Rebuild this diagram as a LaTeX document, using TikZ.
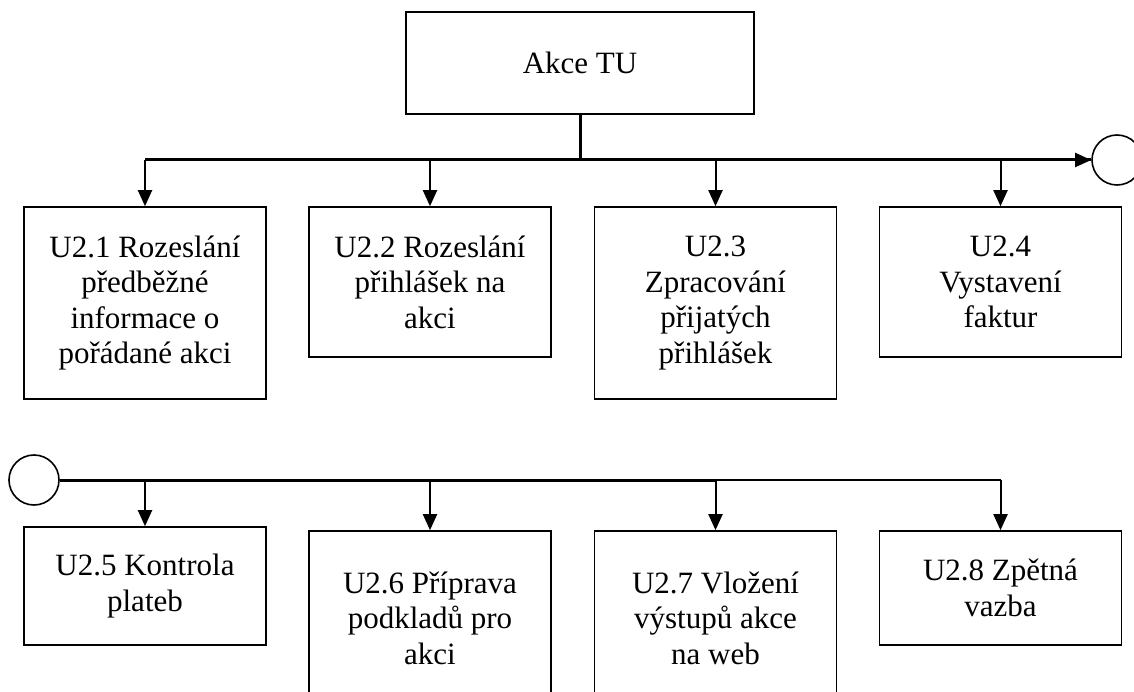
\documentclass[tikz,border=0pt]{standalone}
\usepackage{fontspec}
\setmainfont{Liberation Serif}
\usepackage{tikz}
\usetikzlibrary{arrows.meta}

\begin{document}
\begin{tikzpicture}[x=1pt,y=-1pt]
\tikzstyle{every node}+=[inner sep=0pt,font=\fontsize{31}{35.5}\selectfont]
\tikzstyle{box}=[draw,line width=1.6pt,rectangle,minimum width=242pt,align=center]
\tikzstyle{ring}=[draw,line width=1.6pt,circle,minimum size=50pt]
\tikzstyle{bus}=[line width=3pt]
\tikzstyle{arrow}=[line width=2pt,-{Triangle[width=14pt,length=16pt]}]
\useasboundingbox (0,0) rectangle (1134,692);
\clip (0,0) rectangle (1134,692);
\node [box,minimum width=348pt,minimum height=102pt] (akce) at (580,63) {Akce TU};
\node [box,minimum height=192pt] (u21) at (145,303) {U2.1 Rozeslání\\předběžné\\informace o\\pořádané akci};
\node [box,minimum height=150pt] (u22) at (430,282) {U2.2 Rozeslání\\přihlášek na\\akci};
\node [box,minimum height=192pt] (u23) at (715.5,303) {U2.3\\Zpracování\\přijatých\\přihlášek};
\node [box,minimum height=150pt] (u24) at (1000.5,282) {U2.4\\Vystavení\\faktur};
\node [ring] (out) at (1117,160) {};
\node [ring] (in) at (34,480) {};
\node [box,minimum height=118pt] (u25) at (145,586) {U2.5 Kontrola\\plateb};
\node [box,minimum height=174pt] (u26) at (430,618) {U2.6 Příprava\\podkladů pro\\akci};
\node [box,minimum height=174pt] (u27) at (715.5,618) {U2.7 Vložení\\výstupů akce\\na web};
\node [box,minimum height=114pt] (u28) at (1000.5,588) {U2.8 Zpětná\\vazba};
\draw [bus] (akce.south) -- (akce.south |- out);
\draw [bus] (u21.north |- out) -- (out.west);
\draw [arrow] (u24.north |- out) ++(40,0) -- (out.west);
\foreach \n in {u21,u22,u23,u24}
  \draw [arrow] (\n.north |- out) -- (\n.north);
\draw [bus] (in.east) -- (u27.north |- in);
\draw [line width=2pt] (u27.north |- in) -- (u28.north |- in);
\foreach \n in {u25,u26,u27,u28}
  \draw [arrow] (\n.north |- in) -- (\n.north);
\end{tikzpicture}
\end{document}
